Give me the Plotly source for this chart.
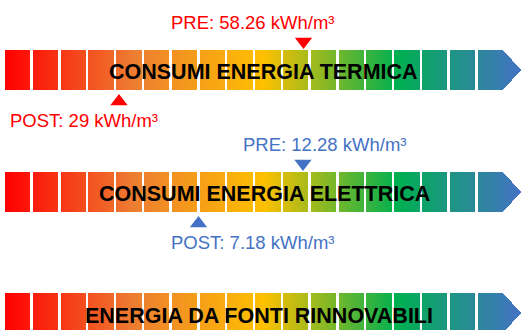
import numpy as np
import plotly.graph_objects as go

# ---- data -------------------------------------------------------------
titles = ["CONSUMI ENERGIA TERMICA", "CONSUMI ENERGIA ELETTRICA", "ENERGIA DA FONTI RINNOVABILI"]
pre_values = [58.26, 12.28]
post_values = [29, 7.18]
unit = "kWh/m³"
n_segments = 18
# value shown at the left / right edge of each indicator strip
scale_ranges = [(10.13, 93.07), (-2.51, 23.02)]

# ---- styling / layout (pixel-like coordinates) -------------------------
W, H = 523, 330
bar_tops = [50, 172, 293]
bar_h = 40
x0, pitch, seg_w = 5.0, 27.8, 25.5
arrow_base, arrow_tip = 503.0, 521.0
label_colors = ["#FF0000", "#4472C4"]
title_pos = [(263, 71.5), (264, 193.5), (259, 316)]
pre_label_x = [252, 324.5]
post_label_x = [84, 252.5]
marker_size = 15

colorscale = [
    [0.0, "#FF0000"],
    [0.25, "#ED7D31"],
    [0.5, "#FFC000"],
    [0.76, "#00B050"],
    [1.0, "#4472C4"],
]

fig = go.Figure()

# gradient strip built from n_segments blocks with an arrow head on the last one
xe = np.arange(x0, arrow_tip + 1, 1.0)
xc = (xe[:-1] + xe[1:]) / 2
for top in bar_tops:
    ye = np.arange(top, top + bar_h + 1, 1.0)
    yc = (ye[:-1] + ye[1:]) / 2
    X, Y = np.meshgrid(xc, yc)
    rel = X - x0
    idx = np.floor(rel / pitch)
    frac = rel - idx * pitch
    dy = np.abs(Y - (top + bar_h / 2)) / (bar_h / 2)
    inside = np.where(
        idx < n_segments - 1,
        frac < seg_w,
        X <= arrow_base + (arrow_tip - arrow_base) * (1 - dy),
    )
    z = np.where(inside, (X - x0) / (arrow_tip - x0), np.nan)
    fig.add_trace(go.Heatmap(
        x=xe, y=ye, z=z, colorscale=colorscale, zmin=0, zmax=1,
        showscale=False, hoverinfo="skip", zsmooth=False,
    ))

# PRE / POST markers on per-strip value axes
r = marker_size / 2
for i, (pre, post) in enumerate(zip(pre_values, post_values)):
    top = bar_tops[i]
    bottom = top + bar_h
    axis = f"x{i + 2}"
    col = label_colors[i]
    fig.add_trace(go.Scatter(
        x=[pre], y=[top - r - 1], xaxis=axis, yaxis="y", mode="markers",
        marker=dict(symbol="triangle-down", size=marker_size, color=col),
        hoverinfo="skip", showlegend=False,
    ))
    fig.add_trace(go.Scatter(
        x=[post], y=[bottom + r + 4], xaxis=axis, yaxis="y", mode="markers",
        marker=dict(symbol="triangle-up", size=marker_size, color=col),
        hoverinfo="skip", showlegend=False,
    ))
    fig.add_annotation(x=pre_label_x[i], y=top - 28, xref="x", yref="y",
                       text=f"PRE: {pre:g} {unit}", showarrow=False,
                       font=dict(family="Arial, Liberation Sans", size=18.5, color=col))
    fig.add_annotation(x=post_label_x[i], y=bottom + 30, xref="x", yref="y",
                       text=f"POST: {post:g} {unit}", showarrow=False,
                       font=dict(family="Arial, Liberation Sans", size=18.5, color=col))

for t, (tx, ty) in zip(titles, title_pos):
    fig.add_annotation(x=tx, y=ty, xref="x", yref="y", text=f"<b>{t}</b>",
                       showarrow=False,
                       font=dict(family="Arial, Liberation Sans", size=21.5, color="#000000"))

hidden = dict(visible=False, showgrid=False, zeroline=False, fixedrange=True)
layout = dict(
    width=W, height=H,
    margin=dict(l=0, r=0, t=0, b=0),
    paper_bgcolor="white", plot_bgcolor="white",
    showlegend=False,
    xaxis=dict(range=[0, W], **hidden),
    yaxis=dict(range=[H, 0], **hidden),
)
for i, (lo, hi) in enumerate(scale_ranges):
    layout[f"xaxis{i + 2}"] = dict(range=[lo, hi], overlaying="x", anchor="y", **hidden)
fig.update_layout(**layout)

fig.write_html("out.html")
